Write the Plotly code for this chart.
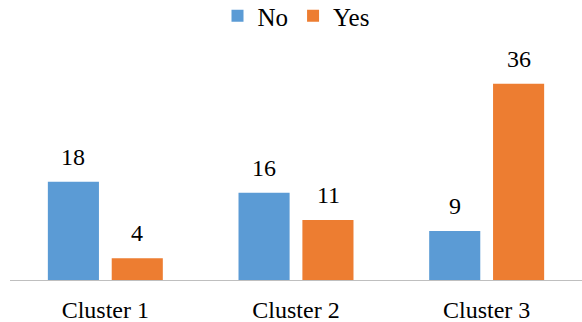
import plotly.graph_objects as go

categories = ["Cluster 1", "Cluster 2", "Cluster 3"]
no_values = [18, 16, 9]
yes_values = [4, 11, 36]

BLUE = "#5B9BD5"
ORANGE = "#ED7D31"
FONT = "Liberation Serif"

fig = go.Figure()
fig.add_trace(go.Bar(name="No", x=categories, y=no_values, marker=dict(color=BLUE, line=dict(width=0))))
fig.add_trace(go.Bar(name="Yes", x=categories, y=yes_values, marker=dict(color=ORANGE, line=dict(width=0))))

annotations = []
for cat, v in zip(categories, no_values):
    annotations.append(dict(x=cat, y=v, xref="x", yref="y", text=str(v), showarrow=False,
                            xshift=-32, yshift=10, yanchor="bottom",
                            font=dict(family=FONT, size=24, color="#000")))
for cat, v in zip(categories, yes_values):
    annotations.append(dict(x=cat, y=v, xref="x", yref="y", text=str(v), showarrow=False,
                            xshift=32, yshift=10, yanchor="bottom",
                            font=dict(family=FONT, size=24, color="#000")))

fig.update_layout(
    width=582, height=322,
    margin=dict(l=10, r=0, t=40, b=42, autoexpand=False),
    paper_bgcolor="white", plot_bgcolor="white",
    barmode="group", bargap=0.33, bargroupgap=0.2,
    font=dict(family=FONT, size=24, color="#000"),
    showlegend=True,
    legend=dict(orientation="h", x=0.5, xanchor="center", y=1.1, yanchor="middle",
                itemwidth=30, font=dict(family=FONT, size=25),
                traceorder="normal"),
    annotations=annotations,
)
fig.update_xaxes(showline=True, linecolor="#bfbfbf", linewidth=1, ticks="", showgrid=False,
                 ticklabelstandoff=8,
                 tickfont=dict(family=FONT, size=24, color="#000"))
fig.update_yaxes(range=[0, 44.0], visible=False, showgrid=False, zeroline=False)
fig.write_html("out.html")
